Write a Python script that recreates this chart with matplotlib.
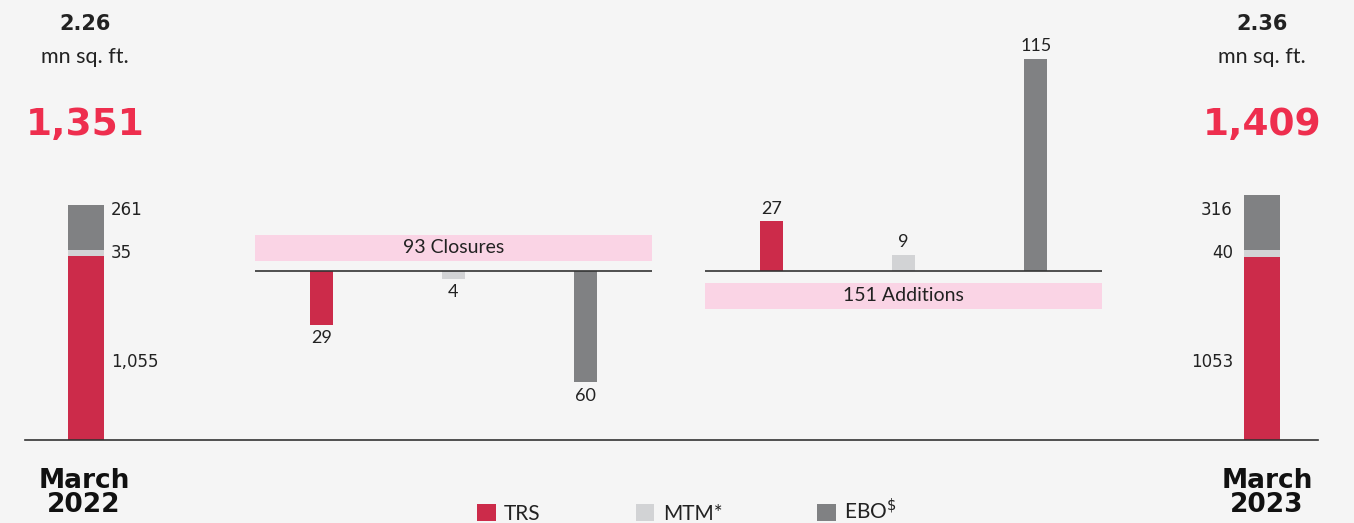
import matplotlib.pyplot as plt
from matplotlib.patches import Patch

plt.rcParams["font.family"] = ["Lato", "DejaVu Sans"]

# Data
segments = ["TRS", "MTM*", r"EBO$^{\$}$"]
periods = ["March\n2022", "March\n2023"]
area_mn_sqft = ["2.26", "2.36"]
stack_2022 = [1055, 35, 261]
stack_2023 = [1053, 40, 316]
stack_labels_2022 = ["1,055", "35", "261"]
stack_labels_2023 = ["1053", "40", "316"]
closures = [29, 4, 60]
additions = [27, 9, 115]

colors = ["#cc2b4a", "#d2d3d5", "#808183"]
bg = "#f5f5f5"
pink = "#fad4e5"
txt = "#222222"
bold_font = "DejaVu Sans"

fig = plt.figure(figsize=(13.54, 5.23), dpi=100, facecolor=bg)

def fx(px):
    return px / 1354

def fy(py):
    return 1 - py / 523

# -----------------------------
# Stacked store-count bars (start / end)
# -----------------------------
ax = fig.add_axes([fx(25), fy(440), fx(1293), 261 / 523])
ax.set_facecolor("none")
ax.set_xlim(-0.0519, 1.0476)
ax.set_ylim(0, 1500)
for s in ["top", "left", "right"]:
    ax.spines[s].set_visible(False)
ax.spines["bottom"].set_color("#333333")
ax.spines["bottom"].set_linewidth(1.2)
ax.set_xticks([])
ax.set_yticks([])

for i, (vals, labs) in enumerate([(stack_2022, stack_labels_2022),
                                  (stack_2023, stack_labels_2023)]):
    bottom = 0
    for j, v in enumerate(vals):
        ax.bar(i, v, bottom=bottom, width=0.0306, color=colors[j])
        if i == 0:
            dx, ha = 5, "left"
            xe = i + 0.0153
        else:
            dx, ha = -8, "right"
            xe = i - 0.0153
        if j == 0:
            y, dy = bottom + v * 0.425, 0
        elif j == 1:
            y, dy = bottom + v / 2, 0
        else:
            y, dy = bottom, 29
        ax.annotate(labs[j], (xe, y), xytext=(dx, dy), textcoords="offset points",
                    ha=ha, va="center", fontsize=12, color=txt, family=bold_font)
        bottom += v

# -----------------------------
# Closures / additions bars
# -----------------------------
def middle_axes(left_px, vals, box_lo, box_hi, title, below):
    m = fig.add_axes([fx(left_px), fy(437.75), fx(397), 397.75 / 523])
    m.set_facecolor("none")
    m.set_xlim(0, 3)
    m.set_ylim(-90, 125)
    m.axis("off")
    sign = -1 if below else 1
    xs = [0.5, 1.5, 2.5]
    m.bar(xs, [sign * v for v in vals], width=0.174, color=colors)
    m.axhline(0, color="#333333", lw=1.2)
    m.axhspan(box_lo, box_hi, color=pink, lw=0)
    m.text(1.5, (box_lo + box_hi) / 2, title, ha="center", va="center",
           fontsize=14, color=txt)
    for x, v in zip(xs, vals):
        m.annotate(str(v), (x, sign * v), xytext=(0, -4 if below else 3),
                   textcoords="offset points", ha="center",
                   va="top" if below else "bottom", fontsize=13, color=txt)

middle_axes(255, closures, 5.7, 19.7, f"{sum(closures)} Closures", True)
middle_axes(705, additions, -20.3, -6.2, f"{sum(additions)} Additions", False)

# -----------------------------
# Headers and period labels
# -----------------------------
for cx, area, vals, period, px in [(85, area_mn_sqft[0], stack_2022, periods[0], 84),
                                   (1262, area_mn_sqft[1], stack_2023, periods[1], 1267)]:
    fig.text(fx(cx), fy(24), area, ha="center", va="center", fontsize=15,
             fontweight="bold", color=txt, family=bold_font)
    fig.text(fx(cx), fy(57), "mn sq. ft.", ha="center", va="center",
             fontsize=15.5, color=txt)
    fig.text(fx(cx), fy(125), f"{sum(vals):,}", ha="center", va="center",
             fontsize=27, fontweight="bold", color="#ee2e4e", family=bold_font)
    fig.text(fx(px), fy(493), period, ha="center", va="center", fontsize=19,
             fontweight="bold", color="#111111", linespacing=0.92,
             family=bold_font)

handles = [Patch(facecolor=c, edgecolor="none") for c in colors]
fig.legend(handles, segments, loc="center", bbox_to_anchor=(fx(687), fy(511)),
           ncol=3, frameon=False, fontsize=15, handlelength=0.9, handleheight=0.9,
           handletextpad=0.4, columnspacing=4.55, borderpad=0, labelcolor=txt)

fig.savefig("out.png", dpi=100, facecolor=bg)
